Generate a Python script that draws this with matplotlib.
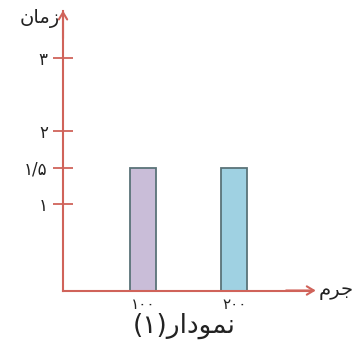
import matplotlib.pyplot as plt

# data
masses = [100, 200]
times = [1.5, 1.5]
bar_colors = ['#c9bdd8', '#9fd1e2']
y_ticks = [1, 1.5, 2, 3]
# Persian labels, written as visual-order presentation forms (no shaping in matplotlib)
y_tick_labels = ['\u06f1', '\u06f1/\u06f5', '\u06f2', '\u06f3']
x_tick_labels = ['\u06f1\u06f0\u06f0', '\u06f2\u06f0\u06f0']
y_label = '\ufee5\ufe8e\ufee3\ufeaf'        # زمان
x_label = '\ufee1\ufeae\ufe9f'              # جرم
caption = '(\u06f1)\ufead\ufe8d\ufea9\ufeee\ufee4\ufee7'  # نمودار(۱)

axis_color = '#d0635a'
text_color = '#222222'
baseline = -0.18  # the drawn origin sits a bit below the tick scale

plt.rcParams['font.family'] = ['DejaVu Sans']

fig = plt.figure(figsize=(3.54, 3.5), dpi=100)
ax = fig.add_axes([0.178, 0.17, 0.70, 0.80])

ax.bar(masses, [t - baseline for t in times], bottom=baseline, width=29,
       color=bar_colors, edgecolor='#5a7378', linewidth=1.3, zorder=2)

ax.set_xlim(12, 284)
ax.set_ylim(baseline, 3.65)

for s in ['top', 'right']:
    ax.spines[s].set_visible(False)
for s in ['left', 'bottom']:
    ax.spines[s].set_color(axis_color)
    ax.spines[s].set_linewidth(1.5)

# open arrow heads at the axis ends
arrow = dict(arrowstyle='->,head_length=0.5,head_width=0.3', color=axis_color, lw=1.5,
             shrinkA=0, shrinkB=0)
ax.annotate('', xy=(1.02, 0), xytext=(0.9, 0), xycoords='axes fraction',
            arrowprops=arrow, annotation_clip=False)
ax.annotate('', xy=(0, 1.0), xytext=(0, 0.9), xycoords='axes fraction',
            arrowprops=arrow, annotation_clip=False)

ax.set_yticks(y_ticks)
ax.set_yticklabels(y_tick_labels, fontsize=12, color=text_color)
ax.tick_params(axis='y', direction='inout', length=14, width=1.3, color=axis_color, pad=4)

ax.set_xticks(masses)
ax.set_xticklabels(x_tick_labels, fontsize=11, color=text_color)
ax.tick_params(axis='x', length=0, pad=5)

ax.text(-0.015, 0.97, y_label, transform=ax.transAxes, ha='right', va='center',
        fontsize=14, color=text_color)
ax.text(1.03, 0.0, x_label, transform=ax.transAxes, ha='left', va='center',
        fontsize=14, color=text_color)
fig.text(0.52, 0.07, caption, ha='center', va='center', fontsize=19, color=text_color)

fig.savefig('out.png', dpi=100)
